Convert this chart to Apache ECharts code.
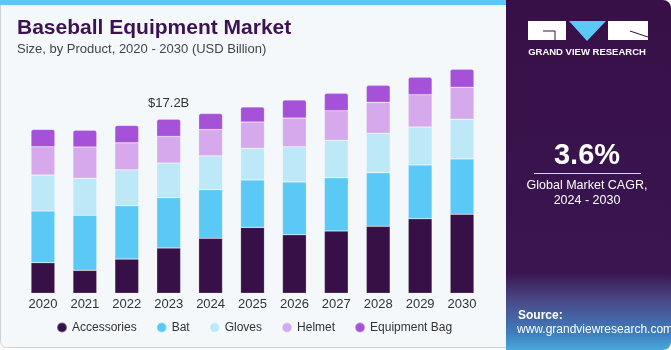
<!DOCTYPE html>
<html>
<head>
<meta charset="utf-8">
<script src="https://cdn.jsdelivr.net/npm/echarts@6/dist/echarts.min.js"></script>
<style>
html,body{margin:0;padding:0;background:#ffffff;}
#c{width:671px;height:350px;}
</style>
</head>
<body>
<div id="c"></div>
<script>
var years = ['2020','2021','2022','2023','2024','2025','2026','2027','2028','2029','2030'];
var accessories = [3.02, 2.27, 3.38, 4.47, 5.43, 6.51, 5.78, 6.15, 6.61, 7.36, 7.80];
var bat         = [5.10, 5.43, 5.26, 4.96, 4.80, 4.67, 5.20, 5.26, 5.29, 5.30, 5.46];
var gloves      = [3.55, 3.65, 3.55, 3.42, 3.33, 3.13, 3.48, 3.69, 3.89, 3.75, 3.92];
var helmet      = [2.79, 3.09, 2.66, 2.63, 2.60, 2.60, 2.83, 2.92, 3.06, 3.19, 3.16];
var equipmentBag= [1.72, 1.65, 1.72, 1.71, 1.58, 1.48, 1.78, 1.72, 1.68, 1.72, 1.78];
var seriesNames = ['Accessories','Bat','Gloves','Helmet','Equipment Bag'];
var labelIndex = 3;

var colors = ['#381048','#5BC9F6','#BDE8F8','#D5A9EC','#A552D9'];
var fam = '"Liberation Sans", Arial, sans-serif';

var allSeries = [accessories, bat, gloves, helmet, equipmentBag];
function total(i){ var s=0; allSeries.forEach(function(a){ s+=a[i]; }); return s; }

var series = allSeries.map(function(arr, k){
  var isTop = (k === allSeries.length-1);
  return {
    name: seriesNames[k],
    type: 'bar',
    stack: 'all',
    barWidth: '57%',
    itemStyle: {
      color: colors[k],
      borderColor: 'rgba(255,255,255,0.35)',
      borderWidth: 0.6,
      borderRadius: isTop ? [2,2,0,0] : 0
    },
    emphasis: {disabled: true},
    data: arr.map(function(v, i){
      if (isTop && i === labelIndex) {
        return {
          value: v,
          label: {
            show: true, position: 'top', distance: 9,
            formatter: '$' + total(i).toFixed(1) + 'B',
            fontFamily: fam, fontSize: 13, color: '#333333'
          }
        };
      }
      return v;
    })
  };
});

var chart = echarts.init(document.getElementById('c'), null, {renderer: 'canvas'});
chart.setOption({
  animation: false,
  backgroundColor: '#ffffff',
  graphic: [
    {type:'rect', z:-10, shape:{x:0.5,y:0.5,width:515,height:347,r:6}, style:{fill:'#F4F8FB', stroke:'#CDD2D6', lineWidth:1}},
    {type:'rect', z:-9, shape:{x:0,y:0,width:510,height:5}, style:{fill:'#5BC8F5'}},
    {type:'rect', z:-8, shape:{x:506,y:0,width:165,height:350,r:[0,8,8,0]},
      style:{fill:{type:'linear',x:0,y:0,x2:0,y2:1,colorStops:[
        {offset:0,color:'#381048'},{offset:0.78,color:'#3a1550'},{offset:0.86,color:'#4a4a88'},
        {offset:0.95,color:'#3f7cbc'},{offset:1,color:'#48a8dc'}]}}},
    // logo
    {type:'rect', z:5, shape:{x:528,y:21,width:38,height:19}, style:{fill:'#ffffff'}},
    {type:'polyline', z:6, shape:{points:[[543,31],[555,31],[555,40]]}, style:{stroke:'#381048', lineWidth:1, fill:null}},
    {type:'polygon', z:5, shape:{points:[[569,21],[606,21],[587,41]]}, style:{fill:'#5BC8F5'}},
    {type:'rect', z:5, shape:{x:608,y:21,width:40,height:19}, style:{fill:'#ffffff'}},
    {type:'polyline', z:6, shape:{points:[[630,31],[648,37]]}, style:{stroke:'#381048', lineWidth:1, fill:null}},
    {type:'text', z:5, style:{x:587,y:52,text:'GRAND VIEW RESEARCH',fill:'#ffffff',font:'bold 9.5px "Liberation Sans", Arial, sans-serif',textAlign:'center',textVerticalAlign:'middle'}},
    {type:'text', z:5, style:{x:587,y:156,text:'3.6%',fill:'#ffffff',font:'bold 29px "Liberation Sans", Arial, sans-serif',textAlign:'center',textVerticalAlign:'middle'}},
    {type:'line', z:5, shape:{x1:534,y1:173.5,x2:641,y2:173.5}, style:{stroke:'#d8d0e0', lineWidth:1}},
    {type:'text', z:5, style:{x:587,y:186,text:'Global Market CAGR,',fill:'#ffffff',font:'12.5px "Liberation Sans", Arial, sans-serif',textAlign:'center',textVerticalAlign:'middle'}},
    {type:'text', z:5, style:{x:587,y:201,text:'2024 - 2030',fill:'#ffffff',font:'12.5px "Liberation Sans", Arial, sans-serif',textAlign:'center',textVerticalAlign:'middle'}},
    {type:'text', z:5, style:{x:518,y:316,text:'Source:',fill:'#ffffff',font:'bold 12px "Liberation Sans", Arial, sans-serif',textAlign:'left',textVerticalAlign:'middle'}},
    {type:'text', z:5, style:{x:517,y:330,text:'www.grandviewresearch.com',fill:'#ffffff',font:'12px "Liberation Sans", Arial, sans-serif',textAlign:'left',textVerticalAlign:'middle'}}
  ],
  title: [
    {text:'Baseball Equipment Market', left:17, top:18, padding:0,
      textStyle:{fontFamily:fam, fontWeight:'bold', fontSize:21, color:'#3B1252'}},
    {text:'Size, by Product, 2020 - 2030 (USD Billion)', left:17, top:43, padding:0,
      textStyle:{fontFamily:fam, fontWeight:'normal', fontSize:13, color:'#444444'}}
  ],
  legend: {
    data: seriesNames, left: 56, top: 321.5, padding: 0, icon: 'circle', itemWidth: 10, itemHeight: 10, itemGap: 19,
    textStyle: {fontFamily: fam, fontSize: 12, color: '#333333'}
  },
  grid: {left: 22, right: 671-483, top: 50.1, bottom: 350-293.3, containLabel: false},
  xAxis: {
    type: 'category', data: years,
    axisLine: {show: false}, axisTick: {show: false},
    axisLabel: {fontFamily: fam, fontSize: 13, color: '#333333', margin: 5}
  },
  yAxis: {type: 'value', min: 0, max: 24, show: false, splitLine: {show: false}},
  series: series
});
</script>
</body>
</html>
